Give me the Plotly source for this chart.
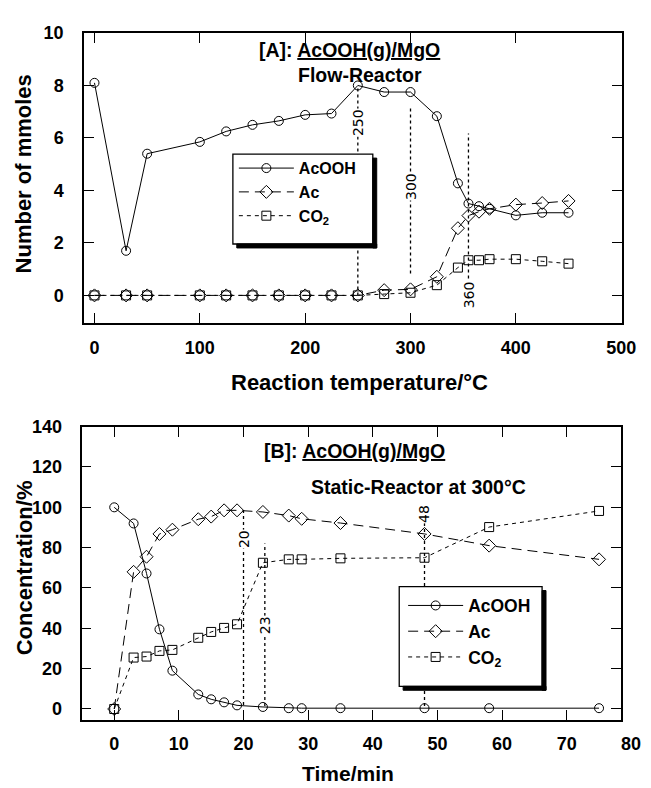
import plotly.graph_objects as go

# ---------------- Panel A data (flow reactor) ----------------
temp_C = [0, 30, 50, 100, 125, 150, 175, 200, 225, 250, 275, 300, 325, 345, 355, 365, 375, 400, 425, 450]
a_acooh = [8.1, 1.7, 5.4, 5.85, 6.25, 6.5, 6.65, 6.88, 6.93, 8.0, 7.75, 7.75, 6.83, 4.27, 3.5, 3.4, 3.3, 3.05, 3.15, 3.15]
a_ac = [0, 0, 0, 0, 0, 0, 0, 0, 0, 0, 0.2, 0.23, 0.71, 2.56, 3.04, 3.19, 3.3, 3.46, 3.52, 3.6]
a_co2 = [0, 0, 0, 0, 0, 0, 0, 0, 0, 0, 0.05, 0.1, 0.39, 1.06, 1.34, 1.34, 1.38, 1.38, 1.3, 1.21]
a_xticks = [0, 100, 200, 300, 400, 500]
a_yticks = [0, 2, 4, 6, 8, 10]
a_vlines_x = [250, 300, 355]
a_vlines_lo = [0, 0.83, 0.64]
a_vlines_hi = [7.9, 7.15, 6.17]
a_vlabels = ["250", "300", "360"]
a_vlabel_y = [6.6, 4.15, 0.02]

# ---------------- Panel B data (static reactor at 300 C) ----------------
time_min = [0, 3, 5, 7, 9, 13, 15, 17, 19, 23, 27, 29, 35, 48, 58, 75]
b_acooh = [100, 92, 67.2, 39.5, 19, 7.2, 4.8, 3.3, 1.8, 1.0, 0.4, 0.4, 0.4, 0.4, 0.4, 0.4]
b_ac = [0, 68, 75.5, 86.8, 88.9, 94.1, 95.4, 98.5, 98.5, 97.7, 95.9, 94.3, 92.2, 86.8, 81, 74.2]
b_co2 = [0, 25.5, 26, 28.8, 29.3, 35.3, 38.2, 40.2, 42, 72.5, 74.2, 74.2, 74.7, 75, 90.2, 98.2]
b_xticks = [0, 10, 20, 30, 40, 50, 60, 70]
b_yticks = [0, 20, 40, 60, 80, 100, 120, 140]
b_vlines_x = [20, 23.3, 48]
b_vlines_lo = [2, 1.5, 1.5]
b_vlines_hi = [99, 82, 101]
b_vlabels = ["20", "23", "48"]
b_vlabel_y = [84, 41.5, 96.5]

A_XR = [-9.8, 500.5]
A_YR = [-1.04, 10]
B_XR = [-5.06, 78.45]
B_YR = [-5.4, 140]

FONT = "Liberation Sans, Arial, sans-serif"
W, H = 651, 788

fig = go.Figure()

def add_series(x, y, name, symbol, dash, xa, ya, leg, size, grp):
    fig.add_trace(go.Scatter(
        x=x, y=y, name=name, mode="lines+markers",
        line=dict(color="black", width=1, dash=dash),
        marker=dict(symbol=symbol, size=size, color="black",
                    line=dict(color="black", width=1)),
        xaxis=xa, yaxis=ya, legend=leg, legendgroup=grp, showlegend=True,
    ))

add_series(temp_C, a_acooh, "<b>AcOOH</b>", "circle-open", "solid", "x", "y", "legend", 9, "a1")
add_series(temp_C, a_ac, "<b>Ac</b>", "diamond-open", "10px,6px", "x", "y", "legend", 10, "a2")
add_series(temp_C, a_co2, "<b>CO<sub>2</sub></b>", "square-open", "4px,4px", "x", "y", "legend", 9, "a3")

add_series(time_min, b_acooh, "<b>AcOOH</b>", "circle-open", "solid", "x2", "y2", "legend2", 9, "b1")
add_series(time_min, b_ac, "<b>Ac</b>", "diamond-open", "10px,6px", "x2", "y2", "legend2", 10, "b2")
add_series(time_min, b_co2, "<b>CO<sub>2</sub></b>", "square-open", "4px,4px", "x2", "y2", "legend2", 9, "b3")

shapes = []
annots = []

def vlines(xs, lo, hi, labels, ly, xr, yr):
    for xv, a, b, lab, yy in zip(xs, lo, hi, labels, ly):
        shapes.append(dict(type="line", xref=xr, yref=yr, x0=xv, x1=xv, y0=a, y1=b,
                           line=dict(color="black", width=1.3, dash="dot"), layer="below"))
        annots.append(dict(xref=xr, yref=yr, x=xv, y=yy, text=lab, showarrow=False,
                           xanchor="center", yanchor="middle",
                           textangle=-90, bgcolor="white", borderpad=0,
                           font=dict(family="DejaVu Sans, sans-serif", size=14, color="black")))

vlines(a_vlines_x, a_vlines_lo, a_vlines_hi, a_vlabels, a_vlabel_y, "x", "y")
vlines(b_vlines_x, b_vlines_lo, b_vlines_hi, b_vlabels, b_vlabel_y, "x2", "y2")

def px_box(x0, y0, x1, y1):
    return dict(x0=x0 / W, x1=x1 / W, y0=1 - y1 / H, y1=1 - y0 / H)

# legend frames with drop shadow (pixel boxes)
SH = 4
for (x0, y0, x1, y1) in [(238, 146, 381, 237), (408, 584, 554, 685)]:
    shapes.append(dict(type="rect", xref="paper", yref="paper", layer="above",
                       fillcolor="white", line=dict(color="black", width=1.3), **px_box(x0, y0, x1, y1)))
    shapes.append(dict(type="rect", xref="paper", yref="paper", layer="above",
                       fillcolor="black", line=dict(color="black", width=1),
                       **px_box(x1, y0 + SH, x1 + SH, y1 + SH)))
    shapes.append(dict(type="rect", xref="paper", yref="paper", layer="above",
                       fillcolor="black", line=dict(color="black", width=1),
                       **px_box(x0 + SH, y1, x1 + SH, y1 + SH)))

tfont = dict(family=FONT, size=19.5, color="black")
afont = dict(family=FONT, size=22, color="black")
C = dict(showarrow=False, xanchor="center", yanchor="middle")
# panel titles
annots += [
    dict(xref="x", yref="y", x=242, y=9.37, font=tfont,
         text="<b>[A]: <u>AcOOH(g)/MgO</u></b>", **C),
    dict(xref="x", yref="y", x=252, y=8.41, font=tfont,
         text="<b>Flow-Reactor</b>", **C),
    dict(xref="x2", yref="y2", x=37.2, y=128, font=tfont,
         text="<b>[B]: <u>AcOOH(g)/MgO</u></b>", **C),
    dict(xref="x2", yref="y2", x=47, y=110.3, font=tfont,
         text="<b>Static-Reactor at 300°C</b>", **C),
]
# axis titles
annots += [
    dict(xref="x domain", yref="y domain", x=0.512, y=-0.205, font=afont,
         text="<b>Reaction temperature/°C</b>", **C),
    dict(xref="x domain", yref="y domain", x=-0.112, y=0.515, font=afont,
         textangle=-90, text="<b>Number of mmoles</b>", **C),
    dict(xref="x2 domain", yref="y2 domain", x=0.493, y=-0.182,
         font=dict(family=FONT, size=21, color="black"),
         text="<b>Time/min</b>", **C),
    dict(xref="x2 domain", yref="y2 domain", x=-0.104, y=0.518, font=afont,
         textangle=-90, text="<b>Concentration/%</b>", **C),
]
# the "80" tick label sits beyond the frame in the original
annots.append(dict(xref="x2 domain", yref="y2 domain",
                   x=(80 - B_XR[0]) / (B_XR[1] - B_XR[0]), y=-0.081,
                   font=dict(family=FONT, size=18, color="black"), text="<b>80</b>", **C))

tick_font = dict(family=FONT, size=18, color="black")
axis_common = dict(showline=True, linecolor="black", linewidth=1.8, mirror="ticks",
                   ticks="inside", ticklen=10, tickwidth=1.3, tickcolor="black",
                   showgrid=False, zeroline=False, tickfont=tick_font, fixedrange=True)

fig.update_layout(
    width=W, height=H, autosize=False,
    margin=dict(l=0, r=0, t=0, b=0),
    paper_bgcolor="white", plot_bgcolor="white",
    font=dict(family=FONT, color="black"),
    xaxis=dict(domain=[86 / W, 635.4 / W], range=A_XR, tickvals=a_xticks,
               ticktext=[f"<b>{v}</b>" for v in a_xticks], anchor="y",
               ticklabelstandoff=8, **axis_common),
    yaxis=dict(domain=[1 - 316.7 / H, 1 - 23.3 / H], range=A_YR, tickvals=a_yticks,
               ticktext=[f"<b>{v}</b>" for v in a_yticks], anchor="x",
               ticklabelstandoff=15, **axis_common),
    xaxis2=dict(domain=[83.3 / W, 635 / W], range=B_XR, tickvals=b_xticks,
                ticktext=[f"<b>{v}</b>" for v in b_xticks], anchor="y2",
                ticklabelstandoff=7, **axis_common),
    yaxis2=dict(domain=[1 - 719 / H, 1 - 422 / H], range=B_YR, tickvals=b_yticks,
                ticktext=[f"<b>{v}</b>" for v in b_yticks], anchor="x2",
                ticklabelstandoff=14, **axis_common),
    legend=dict(x=239 / W, y=1 - 143 / H, xanchor="left", yanchor="top",
                bgcolor="rgba(0,0,0,0)", borderwidth=0, itemwidth=55,
                traceorder="grouped", tracegroupgap=0,
                font=dict(family=FONT, size=16, color="black")),
    legend2=dict(x=412 / W, y=1 - 585 / H, xanchor="left", yanchor="top",
                 bgcolor="rgba(0,0,0,0)", borderwidth=0, itemwidth=55,
                 traceorder="grouped", tracegroupgap=0,
                 font=dict(family=FONT, size=17.5, color="black")),
    shapes=shapes, annotations=annots, showlegend=True,
)

fig.write_html("out.html", config={"displayModeBar": False})
